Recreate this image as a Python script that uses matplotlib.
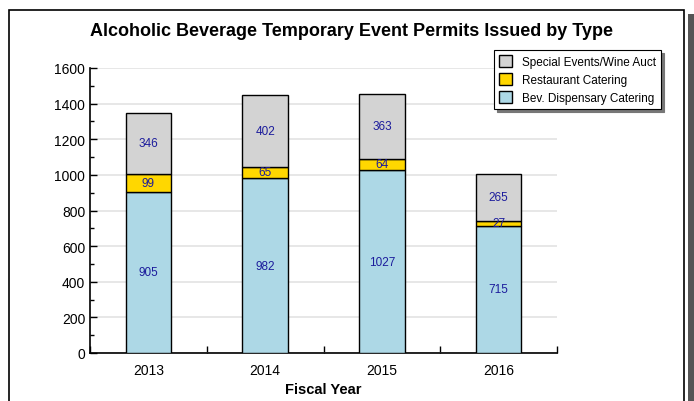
import numpy as np
import matplotlib
matplotlib.use('Agg')
import matplotlib.pyplot as plt
from matplotlib.patches import Rectangle
from matplotlib.ticker import MultipleLocator

anos = ['2013', '2014', '2015', '2016']
bev_dispensary = [905, 982, 1027, 715]
restaurante = [99, 65, 64, 27]
especiais = [346, 402, 363, 265]

series = [('Bev. Dispensary Catering', bev_dispensary, '#add8e6'),
          ('Restaurant Catering', restaurante, '#ffd700'),
          ('Special Events/Wine Auct', especiais, '#d3d3d3')]

plt.rcParams['font.family'] = ['Liberation Sans', 'DejaVu Sans']

fig = plt.figure(figsize=(6.94, 4.02), dpi=100)
W, H = 694, 402

# moldura com sombra
fig.add_artist(Rectangle((688 / W, -0.1), 6 / W, (402 - 15) / H + 0.1,
                         transform=fig.transFigure, facecolor='#555555', edgecolor='none'))
fig.add_artist(Rectangle((9 / W, -0.1), (684 - 9) / W, (402 - 11) / H + 0.1,
                         transform=fig.transFigure, facecolor='none', edgecolor='black', lw=1.2))

ax = fig.add_axes([90 / W, (402 - 354) / H, (557 - 90) / W, (354 - 69) / H])

x = np.arange(len(anos))
base = np.zeros(len(anos))
handles = []
for nome, vals, cor in series:
    b = ax.bar(x, vals, 0.39, bottom=base, color=cor, edgecolor='black', lw=1.0, label=nome, zorder=3)
    handles.append(b)
    for xi, v, b0 in zip(x, vals, base):
        ax.text(xi, b0 + v / 2, str(v), ha='center', va='center', color='#1c1c9c', fontsize=8.5, zorder=4)
    base = base + np.array(vals)

ax.set_xlim(-0.5, 3.5)
ax.set_ylim(0, 1600)
ax.yaxis.set_major_locator(MultipleLocator(200))
ax.yaxis.set_minor_locator(MultipleLocator(100))
ax.grid(axis='y', color='#e3e3e3', lw=1.2, zorder=0)

ax.set_xticks(x)
ax.set_xticklabels(anos, fontsize=10)
ax.set_xticks(np.arange(-0.5, 4, 1), minor=True)
ax.tick_params(axis='x', which='major', length=0, pad=7)
ax.tick_params(axis='x', which='minor', direction='in', length=5, width=1)
ax.tick_params(axis='y', which='major', direction='in', length=5, width=1, labelsize=10)
ax.tick_params(axis='y', which='minor', direction='in', length=3, width=1)

for s in ['top', 'right']:
    ax.spines[s].set_visible(False)
for s in ['left', 'bottom']:
    ax.spines[s].set_linewidth(1.2)

ax.set_xlabel('Fiscal Year', fontsize=10.5, fontweight='bold', labelpad=4)
fig.text(352 / W, 1 - 31 / H, 'Alcoholic Beverage Temporary Event Permits Issued by Type',
         ha='center', va='center', fontsize=13, fontweight='bold')

leg = fig.legend(handles[::-1], [s[0] for s in series][::-1], loc='upper left',
                 bbox_to_anchor=(494 / W, 1 - 51 / H), fontsize=8.5, frameon=True,
                 fancybox=False, shadow={'color': '#777777', 'alpha': 1.0, 'ox': 2, 'oy': -2},
                 edgecolor='black', handlelength=1.1, handleheight=1.1, borderpad=0.45,
                 labelspacing=0.45, handletextpad=0.8, borderaxespad=0)
leg.get_frame().set_linewidth(0.8)

fig.savefig('out.png', dpi=100)
